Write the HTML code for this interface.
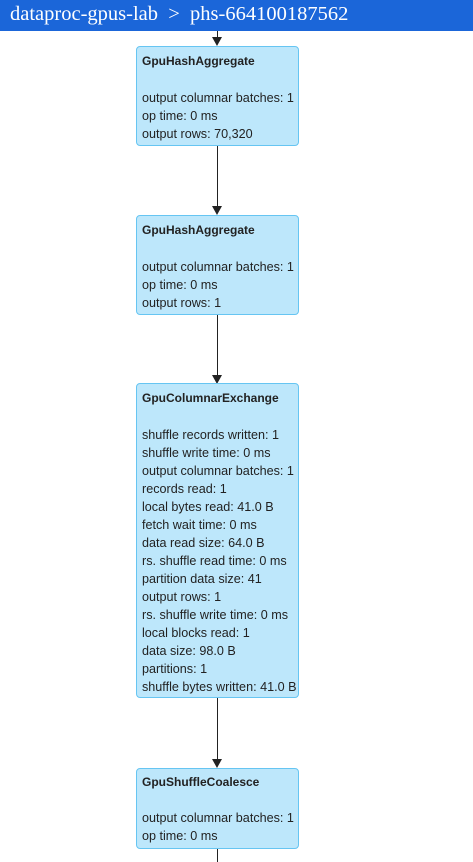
<!DOCTYPE html>
<html><head><style>
body{margin:0;width:473px;height:862px;overflow:hidden;background:#fff;position:relative;font-family:"Liberation Sans",Arial,sans-serif}
.hdr{position:absolute;left:0;top:0;width:473px;height:31px;background:#1b66d9;color:#fff;font-family:"Liberation Serif",serif;font-size:20.5px;line-height:29px;padding-left:10px;box-sizing:border-box;white-space:nowrap;z-index:2}
.box{position:absolute;left:136px;width:163px;box-sizing:border-box;background:#bde7fb;border:1.5px solid #66c5f2;border-radius:4px;font-size:12.6px;color:#222;padding-left:5px}
.box b{position:absolute;left:5px;font-size:12px;color:#222}
.box div{position:absolute;left:5px;white-space:nowrap;line-height:14px}
.ln{position:absolute;left:216.5px;width:1.3px;background:#222}
.ar{position:absolute;left:212px;width:0;height:0;border-left:5px solid transparent;border-right:5px solid transparent;border-top:9px solid #222}
</style></head><body>
<div class="hdr">dataproc-gpus-lab&nbsp; &gt; &nbsp;phs-664100187562</div>

<div class="ln" style="top:31px;height:8px"></div><div class="ar" style="top:37px"></div>
<div class="box" style="top:46px;height:100px">
<b style="top:7px">GpuHashAggregate</b>
<div style="top:44px">output columnar batches: 1</div>
<div style="top:62px">op time: 0 ms</div>
<div style="top:80px">output rows: 70,320</div>
</div>

<div class="ln" style="top:146px;height:62px"></div><div class="ar" style="top:206px"></div>
<div class="box" style="top:215px;height:100px">
<b style="top:7px">GpuHashAggregate</b>
<div style="top:44px">output columnar batches: 1</div>
<div style="top:62px">op time: 0 ms</div>
<div style="top:80px">output rows: 1</div>
</div>

<div class="ln" style="top:315px;height:62px"></div><div class="ar" style="top:375px"></div>
<div class="box" style="top:383px;height:315px">
<b style="top:7px">GpuColumnarExchange</b>
<div style="top:44px">shuffle records written: 1</div>
<div style="top:62px">shuffle write time: 0 ms</div>
<div style="top:80px">output columnar batches: 1</div>
<div style="top:98px">records read: 1</div>
<div style="top:116px">local bytes read: 41.0 B</div>
<div style="top:134px">fetch wait time: 0 ms</div>
<div style="top:152px">data read size: 64.0 B</div>
<div style="top:170px">rs. shuffle read time: 0 ms</div>
<div style="top:188px">partition data size: 41</div>
<div style="top:206px">output rows: 1</div>
<div style="top:224px">rs. shuffle write time: 0 ms</div>
<div style="top:242px">local blocks read: 1</div>
<div style="top:260px">data size: 98.0 B</div>
<div style="top:278px">partitions: 1</div>
<div style="top:296px">shuffle bytes written: 41.0 B</div>
</div>

<div class="ln" style="top:698px;height:62px"></div><div class="ar" style="top:759px"></div>
<div class="box" style="top:768px;height:81px">
<b style="top:6px">GpuShuffleCoalesce</b>
<div style="top:42px">output columnar batches: 1</div>
<div style="top:60px">op time: 0 ms</div>
</div>
<div class="ln" style="top:849px;height:13px"></div>
</body></html>
